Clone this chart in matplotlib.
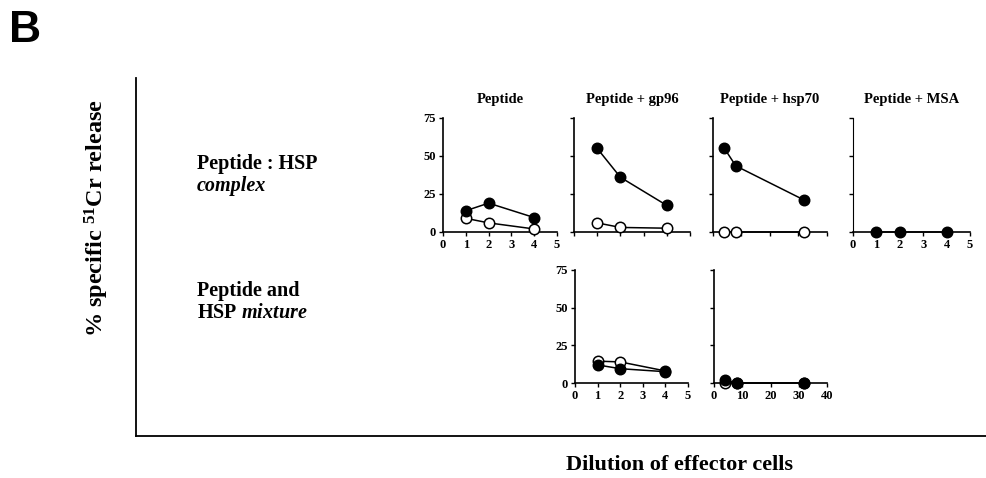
import matplotlib
matplotlib.use('Agg')
import matplotlib.pyplot as plt

plt.rcParams['font.family'] = ['Liberation Serif', 'DejaVu Serif']
plt.rcParams['font.weight'] = 'bold'
plt.rcParams['mathtext.fontset'] = 'custom'
plt.rcParams['mathtext.rm'] = 'Liberation Serif:bold'
plt.rcParams['mathtext.bf'] = 'Liberation Serif:bold'
plt.rcParams['mathtext.it'] = 'Liberation Serif:italic:bold'

# dilutions
x_dil = [1, 2, 4]
x_hsp = [4, 8, 32]

# complex row
pep_filled = [14, 19, 9.5]
pep_open = [9, 6, 2]
gp96_filled = [55, 36, 17.5]
gp96_open = [6, 3, 2.5]
hsp70_filled = [55, 43.5, 21]
hsp70_open = [0, 0, 0]
msa_filled = [0, 0, 0]

# mixture row
gp96mix_open = [14.5, 14, 8]
gp96mix_filled = [12, 9.5, 7.5]
hsp70mix_open = [0, 0, 0]
hsp70mix_filled = [2, 0, 0]

yticks = [0, 25, 50, 75]
ticks_5 = [0, 1, 2, 3, 4, 5]
ticks_40 = [0, 10, 20, 30, 40]

W, H = 987, 478
fig = plt.figure(figsize=(W / 100, H / 100), dpi=100)


def px_axes(x0, x1, ytop, ybot):
    return fig.add_axes([x0 / W, 1 - ybot / H, (x1 - x0) / W, (ybot - ytop) / H])


# outer frame
outer = px_axes(136, 987, 78, 436)
outer.set_xticks([])
outer.set_yticks([])
outer.spines[['top', 'right']].set_visible(False)
outer.spines[['left', 'bottom']].set_linewidth(1.3)
outer.patch.set_alpha(0)


def panel(x0, x1, ytop, ybot, xmax, xt, xlab, ylab, title=None):
    ax = px_axes(x0, x1, ytop, ybot)
    ax.set_xlim(0, xmax)
    ax.set_ylim(0, 75)
    ax.set_xticks(xt)
    ax.set_yticks(yticks)
    ax.spines[['top', 'right']].set_visible(False)
    ax.spines[['left', 'bottom']].set_linewidth(1.2)
    ax.tick_params(length=3, width=1, pad=2, labelsize=9)
    if not xlab:
        ax.set_xticklabels([])
    if not ylab:
        ax.set_yticklabels([])
    ax.patch.set_alpha(0)
    if title:
        ax.set_title(title, fontsize=10.5, fontweight='bold', pad=11)
    return ax


def series(ax, x, y, filled):
    ax.plot(x, y, color='black', lw=1.1, marker='o', ms=7.5,
            mfc='black' if filled else 'white', mec='black', mew=1.1,
            clip_on=False, zorder=4 if filled else 3)


ax1 = panel(443, 557, 118, 232, 5, ticks_5, True, True, 'Peptide')
series(ax1, x_dil, pep_open, False)
series(ax1, x_dil, pep_filled, True)

ax2 = panel(574, 690, 118, 232, 5, ticks_5, False, False, 'Peptide + gp96')
series(ax2, x_dil, gp96_open, False)
series(ax2, x_dil, gp96_filled, True)

ax3 = panel(713, 827, 118, 232, 40, ticks_40, False, False, 'Peptide + hsp70')
series(ax3, x_hsp, hsp70_open, False)
series(ax3, x_hsp, hsp70_filled, True)

ax4 = panel(853, 970, 118, 232, 5, ticks_5, True, False, 'Peptide + MSA')
ax4.spines['left'].set_linestyle((0, (2, 1)))
ax4.spines['left'].set_linewidth(0.8)
series(ax4, x_dil, msa_filled, True)

ax5 = panel(575, 688, 270, 383, 5, ticks_5, True, True)
series(ax5, x_dil, gp96mix_open, False)
series(ax5, x_dil, gp96mix_filled, True)

ax6 = panel(714, 827, 270, 383, 40, ticks_40, True, False)
series(ax6, x_hsp, hsp70mix_open, False)
series(ax6, x_hsp, hsp70mix_filled, True)

# row labels
fig.text(197 / W, 1 - 169 / H, 'Peptide : HSP', fontsize=14.5, fontweight='bold')
fig.text(197 / W, 1 - 191 / H, 'complex', fontsize=14.5, fontweight='bold', style='italic')
fig.text(197 / W, 1 - 296 / H, 'Peptide and', fontsize=14.5, fontweight='bold')
fig.text(197 / W, 1 - 318 / H, 'HSP $\\mathit{mixture}$', fontsize=14.5, fontweight='bold')

fig.text(97 / W, 1 - 218 / H, '% specific $^{51}$Cr release', rotation=90,
         ha='center', va='center', fontsize=17.5, fontweight='bold')
fig.text(680 / W, 1 - 465 / H, 'Dilution of effector cells',
         ha='center', va='center', fontsize=16, fontweight='bold')
fig.text(9 / W, 1 - 31 / H, 'B', family='Liberation Sans', fontsize=32,
         fontweight='bold', va='center')

fig.savefig('out.png', dpi=100)
